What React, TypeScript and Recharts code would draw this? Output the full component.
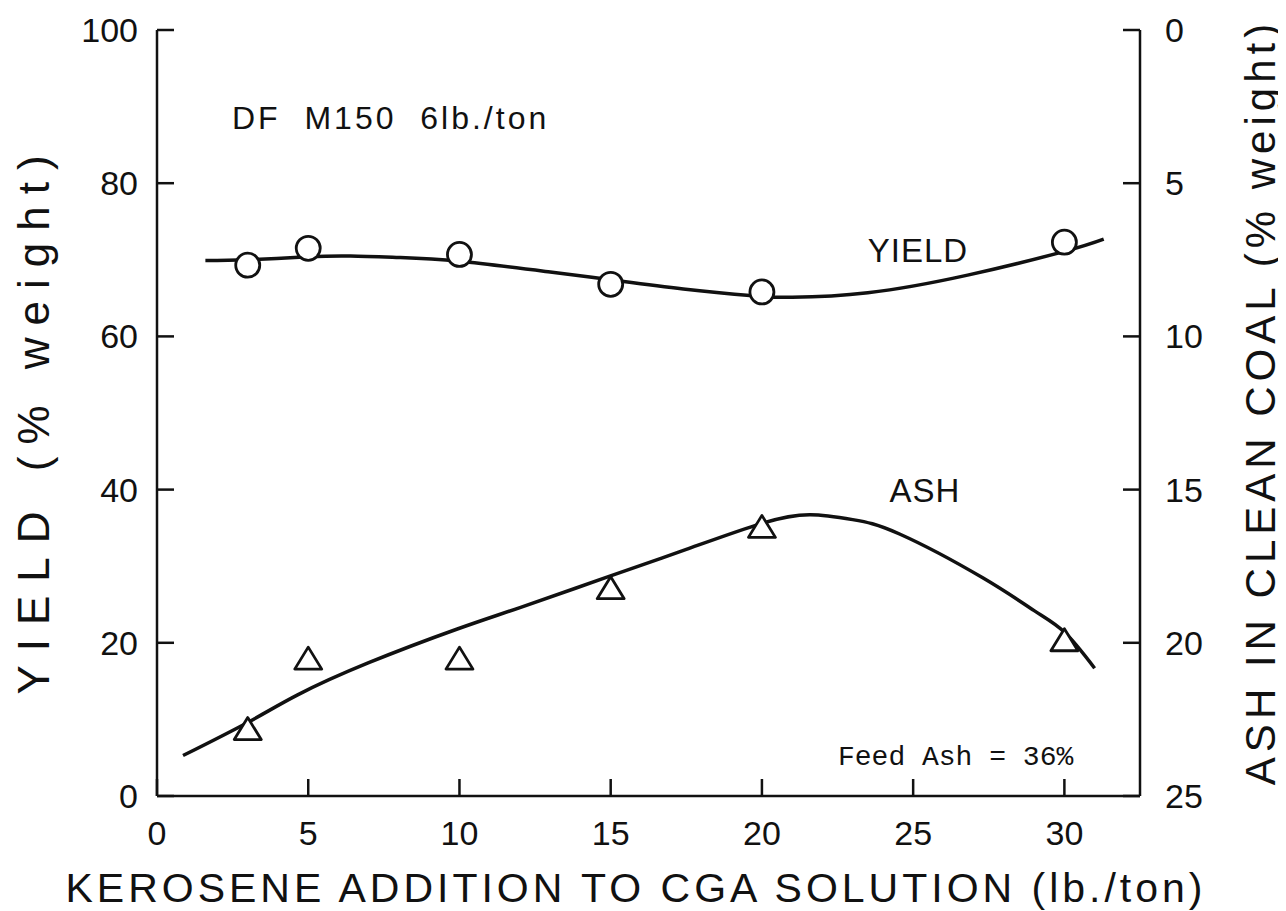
import React from 'react';
import {
	ComposedChart,
	Line,
	Scatter,
	XAxis,
	YAxis,
	Customized,
} from 'recharts';

// kerosene addition, lb./ton (measured points)
const kerosene = [3, 5, 10, 15, 20, 30];
// yield, % weight (left axis)
const yieldPct = [69.3, 71.5, 70.7, 66.8, 65.8, 72.3];
// ash in clean coal, % weight (right axis, reversed)
const ashPct = [22.8, 20.5, 20.5, 18.2, 16.2, 19.9];

// hand-drawn fitted curves
const yieldFitX = [1.6, 3, 5, 6.4, 8, 10, 13, 15, 17.4, 19.7, 21, 23.5, 26.8, 30, 31.3];
const yieldFitY = [69.9, 70.0, 70.4, 70.5, 70.3, 69.8, 68.4, 67.4, 66.2, 65.3, 65.1, 65.7, 68.0, 71.1, 72.7];
const ashFitX = [0.86, 3, 4.65, 7, 9.93, 12, 14.9, 17.5, 20, 21.6, 23, 24.55, 27.3, 29, 30, 31];
const ashFitY = [23.68, 22.6, 21.7, 20.65, 19.55, 18.85, 17.85, 16.95, 16.1, 15.82, 15.98, 16.45, 17.88, 18.95, 19.65, 20.83];

const xTicks = [0, 5, 10, 15, 20, 25, 30];
const topTicks = [5, 10, 15, 20, 25, 30];
const yieldTicks = [0, 20, 40, 60, 80, 100];
const ashTicks = [0, 5, 10, 15, 20, 25];

const yieldPoints = kerosene.map((x, i) => ({ x, y: yieldPct[i] }));
const ashPoints = kerosene.map((x, i) => ({ x, y: ashPct[i] }));
const yieldCurve = yieldFitX.map((x, i) => ({ x, y: yieldFitY[i] }));
const ashCurve = ashFitX.map((x, i) => ({ x, y: ashFitY[i] }));

const INK = '#111';
const tickFont = { fontFamily: 'Liberation Sans', fontSize: 34, fill: INK };

const Circle = (props: any) => (
	<circle cx={props.cx} cy={props.cy} r={12} fill="#fff" stroke={INK} strokeWidth={2.8} />
);

const Triangle = (props: any) => {
	const { cx, cy } = props;
	const w = 13.5;
	const h = 11;
	return (
		<path
			d={`M${cx},${cy - h} L${cx + w},${cy + h} L${cx - w},${cy + h} Z`}
			fill="#fff"
			stroke={INK}
			strokeWidth={2.8}
			strokeLinejoin="round"
		/>
	);
};

const Notes = () => (
	<g fill={INK}>
		<text
			x={224}
			y={110}
			fontFamily="Liberation Sans"
			fontSize={32}
			letterSpacing={3}
			dominantBaseline="central"
			xmlSpace="preserve"
		>
			{'DF  M150  6lb./ton'}
		</text>
		<text x={910} y={242} fontFamily="Liberation Sans" fontSize={33} letterSpacing={1} textAnchor="middle" dominantBaseline="central">
			YIELD
		</text>
		<text x={917} y={482} fontFamily="Liberation Sans" fontSize={33} letterSpacing={1} textAnchor="middle" dominantBaseline="central">
			ASH
		</text>
		<text x={830} y={757} fontFamily="Liberation Mono" fontSize={28}>
			Feed Ash = 36%
		</text>
		<text
			x={628}
			y={880}
			fontFamily="Liberation Sans"
			fontSize={41}
			letterSpacing={4}
			textAnchor="middle"
			dominantBaseline="central"
		>
			KEROSENE ADDITION TO CGA SOLUTION (lb./ton)
		</text>
		<text
			transform="translate(25, 411) rotate(-90)"
			fontFamily="Liberation Sans"
			fontSize={44}
			textAnchor="middle"
			dominantBaseline="central"
		>
			<tspan letterSpacing={14}>YIELD </tspan>
			<tspan letterSpacing={12}>(% weight)</tspan>
		</text>
		<text
			transform="translate(1252, 394) rotate(-90)"
			fontFamily="Liberation Sans"
			fontSize={42}
			letterSpacing={5}
			textAnchor="middle"
			dominantBaseline="central"
		>
			ASH IN CLEAN COAL (% weight)
		</text>
	</g>
);

export default function App() {
	return (
		<ComposedChart
			width={1278}
			height={903}
			margin={{ top: 22, right: 0, bottom: 0, left: 0 }}
		>
			<XAxis
				xAxisId="bottom"
				dataKey="x"
				type="number"
				domain={[0, 32.5]}
				ticks={xTicks}
				height={115}
				tickSize={-17}
				tickMargin={42}
				tick={tickFont}
				axisLine={{ stroke: INK, strokeWidth: 2.5 }}
				tickLine={{ stroke: INK, strokeWidth: 2.5 }}
			/>
			<XAxis
				xAxisId="top"
				orientation="top"
				dataKey="x"
				type="number"
				domain={[0, 32.5]}
				ticks={topTicks}
				height={0}
				tickSize={-17}
				tick={false}
				axisLine={{ stroke: INK, strokeWidth: 2.5 }}
				tickLine={{ stroke: INK, strokeWidth: 2.5 }}
			/>
			<YAxis
				yAxisId="yield"
				type="number"
				domain={[0, 100]}
				ticks={yieldTicks}
				width={149}
				tickSize={-17}
				tickMargin={36}
				tick={tickFont}
				axisLine={{ stroke: INK, strokeWidth: 2.5 }}
				tickLine={{ stroke: INK, strokeWidth: 2.5 }}
			/>
			<YAxis
				yAxisId="ash"
				orientation="right"
				type="number"
				reversed
				domain={[0, 25]}
				ticks={ashTicks}
				width={146}
				tickSize={-17}
				tickMargin={42}
				tick={tickFont}
				axisLine={{ stroke: INK, strokeWidth: 2.5 }}
				tickLine={{ stroke: INK, strokeWidth: 2.5 }}
			/>
			<Line
				data={yieldCurve}
				xAxisId="bottom"
				yAxisId="yield"
				dataKey="y"
				type="natural"
				stroke={INK}
				strokeWidth={3.5}
				dot={false}
				isAnimationActive={false}
			/>
			<Line
				data={ashCurve}
				xAxisId="bottom"
				yAxisId="ash"
				dataKey="y"
				type="natural"
				stroke={INK}
				strokeWidth={3.5}
				dot={false}
				isAnimationActive={false}
			/>
			<Scatter
				data={yieldPoints}
				xAxisId="bottom"
				yAxisId="yield"
				dataKey="y"
				shape={Circle}
				isAnimationActive={false}
			/>
			<Scatter
				data={ashPoints}
				xAxisId="bottom"
				yAxisId="ash"
				dataKey="y"
				shape={Triangle}
				isAnimationActive={false}
			/>
			<Customized component={Notes} />
		</ComposedChart>
	);
}
